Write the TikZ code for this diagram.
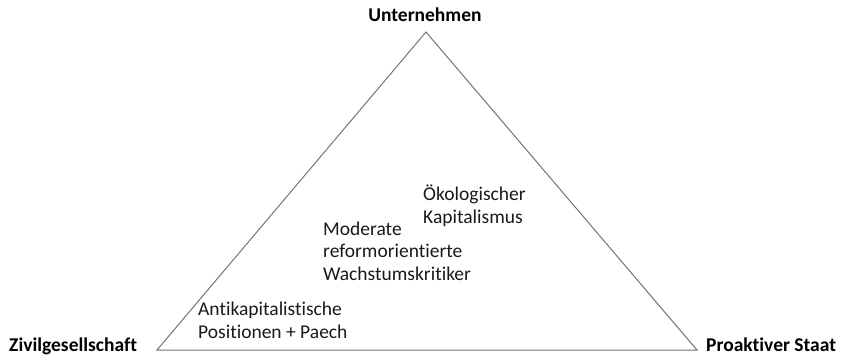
\documentclass[tikz,border=0pt]{standalone}
\usepackage{fontspec}
\setmainfont{Carlito}[Ligatures={NoCommon,NoContextual}]
\begin{document}
\begin{tikzpicture}[x=1pt,y=-1pt,
  lbl/.style={font=\fontsize{19.5}{22.5}\selectfont, text=black!90, inner sep=0pt, align=left},
  corner/.style={font=\bfseries\fontsize{19.5}{22.5}\selectfont, text=black, inner sep=0pt},
  edge/.style={draw=black!55, line width=1pt}]
\useasboundingbox (0,0) rectangle (842,356);
\coordinate (top) at (426,32);
\coordinate (bl) at (157,350);
\coordinate (br) at (697,350);
\draw[edge] (top) -- (br) -- (bl) -- cycle;
\node[corner, anchor=base] (u) at (425,21.5) {Unternehmen};
\node[corner, anchor=base west] (z) at (9,351) {Zivilgesellschaft};
\node[corner, anchor=base west] (p) at (706,351) {Proaktiver Staat};
\node[lbl, anchor=base west] (oek) at (423,223) {Ökologischer\\Kapitalismus};
\node[lbl, anchor=base west] (mod) at (323,280) {Moderate\\reformorientierte\\Wachstumskritiker};
\node[lbl, anchor=base west] (anti) at (198,338) {Antikapitalistische\\Positionen + Paech};
\end{tikzpicture}
\end{document}
